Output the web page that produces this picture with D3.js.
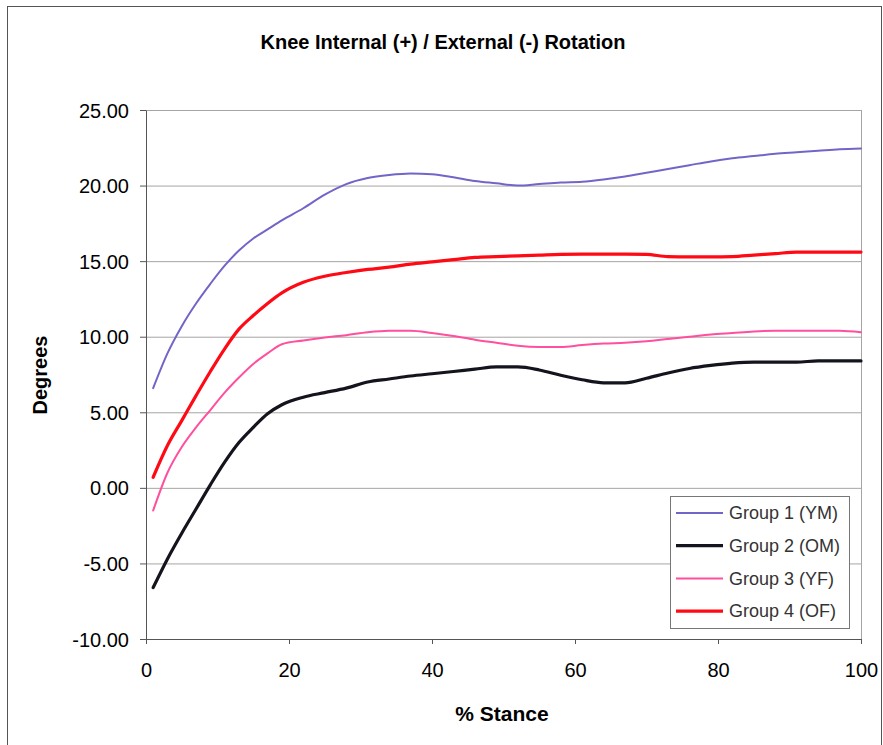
<!DOCTYPE html>
<html>
<head>
<meta charset="utf-8">
<script src="https://cdn.jsdelivr.net/npm/d3@7"></script>
<style>
	body { margin: 0; background: #fff; }
	text { font-family: "Liberation Sans", Arial, sans-serif; }
</style>
</head>
<body>
<svg id="chart"></svg>
<script>
// % stance sample points
let stance = [1, 3, 5, 7, 9, 11, 13, 15, 17, 19, 22, 25, 28, 31, 34, 37, 40, 43, 46, 49,
	52, 55, 58, 61, 64, 67, 70, 73, 76, 79, 82, 85, 88, 91, 94, 97, 100];

let group1_ym = [6.6, 8.9, 10.7, 12.2, 13.5, 14.7, 15.7, 16.5, 17.1, 17.7, 18.5, 19.4, 20.1, 20.5,
	20.7, 20.8, 20.75, 20.55, 20.3, 20.15, 20.0, 20.1, 20.2, 20.25, 20.4, 20.6, 20.85, 21.1,
	21.35, 21.6, 21.8, 21.95, 22.1, 22.2, 22.3, 22.4, 22.45];

let group2_om = [-6.6, -4.7, -3.0, -1.4, 0.2, 1.7, 3.0, 4.0, 4.9, 5.5, 6.0, 6.3, 6.6, 7.0,
	7.2, 7.4, 7.55, 7.7, 7.85, 8.0, 8.0, 7.8, 7.45, 7.15, 6.95, 6.95, 7.25, 7.6,
	7.9, 8.1, 8.25, 8.32, 8.32, 8.32, 8.4, 8.4, 8.4];

let group3_yf = [-1.5, 1.0, 2.7, 4.0, 5.15, 6.3, 7.3, 8.2, 8.9, 9.5, 9.75, 9.95, 10.1, 10.3,
	10.4, 10.4, 10.25, 10.05, 9.8, 9.6, 9.4, 9.32, 9.32, 9.45, 9.55, 9.6, 9.7, 9.85,
	10.0, 10.15, 10.25, 10.35, 10.4, 10.4, 10.4, 10.4, 10.3];

let group4_of = [0.7, 2.8, 4.45, 6.1, 7.7, 9.2, 10.5, 11.4, 12.2, 12.9, 13.6, 14.0, 14.25, 14.45,
	14.6, 14.8, 14.95, 15.1, 15.25, 15.3, 15.35, 15.4, 15.45, 15.47, 15.47, 15.47, 15.45, 15.3,
	15.28, 15.28, 15.3, 15.4, 15.5, 15.6, 15.6, 15.6, 15.6];

let series_names = ['Group 1 (YM)', 'Group 2 (OM)', 'Group 3 (YF)', 'Group 4 (OF)'];
let y_ticks = [-10, -5, 0, 5, 10, 15, 20, 25];
let x_ticks = [0, 20, 40, 60, 80, 100];

let series_colors = ['#7265c8', '#14141e', '#ff4f9e', '#ff0a14'];
let series_widths = [2, 3.2, 2, 3.2];

let width = 883, height = 745;
let margin = {left: 146, top: 110, right: 22, bottom: 106};
let plot_w = width - margin.left - margin.right,
	plot_h = height - margin.top - margin.bottom;

let svg = d3.select('#chart')
	.attr('width', width)
	.attr('height', height);

// outer frame
svg.append('rect')
	.attr('x', 7.5)
	.attr('y', 6.5)
	.attr('width', 874)
	.attr('height', 760)
	.attr('fill', 'none')
	.attr('stroke', '#555')
	.attr('stroke-width', 1);

let x = d3.scaleLinear()
	.domain([0, 100])
	.range([0, plot_w]);

let y = d3.scaleLinear()
	.domain([-10, 25])
	.range([plot_h, 0]);

let g = svg.append('g')
	.attr('transform', `translate(${margin.left}, ${margin.top})`);

// grid lines
g.selectAll('.grid')
	.data(y_ticks)
	.enter().append('line')
	.attr('class', 'grid')
	.attr('x1', 0)
	.attr('x2', plot_w)
	.attr('y1', d => y(d) + .5)
	.attr('y2', d => y(d) + .5)
	.attr('stroke', '#a8a4a4')
	.attr('stroke-width', 1);

// plot area right edge
g.append('line')
	.attr('x1', plot_w + .5)
	.attr('x2', plot_w + .5)
	.attr('y1', 0)
	.attr('y2', plot_h)
	.attr('stroke', '#a8a4a4');

// plain hyphen for negatives, like the original
let fmt = d => d3.format('.2f')(d).replace('\u2212', '-');

let y_axis = g.append('g')
	.call(d3.axisLeft(y).tickValues(y_ticks).tickSize(6).tickSizeOuter(0).tickFormat(fmt));

let x_axis = g.append('g')
	.attr('transform', `translate(0, ${plot_h})`)
	.call(d3.axisBottom(x).tickValues(x_ticks).tickSize(5).tickSizeOuter(0));

[y_axis, x_axis].forEach(a => {
	a.select('.domain').attr('stroke', '#555');
	a.selectAll('.tick line').attr('stroke', '#555');
	a.selectAll('text')
		.attr('fill', '#000')
		.style('font-family', '"Liberation Sans", Arial, sans-serif')
		.style('font-size', '20px');
});
y_axis.selectAll('text').attr('x', -17).attr('dy', '0.35em');
x_axis.selectAll('text').attr('y', 24);

let all_values = [group1_ym, group2_om, group3_yf, group4_of];

let line = d3.line()
	.x((d, i) => x(stance[i]))
	.y(d => y(d))
	.curve(d3.curveMonotoneX);

g.selectAll('.series')
	.data(all_values)
	.enter().append('path')
	.attr('class', 'series')
	.attr('d', d => line(d))
	.attr('fill', 'none')
	.attr('stroke', (d, i) => series_colors[i])
	.attr('stroke-width', (d, i) => series_widths[i])
	.attr('stroke-linejoin', 'round')
	.attr('stroke-linecap', 'round');

// title and axis labels
svg.append('text')
	.attr('x', 443)
	.attr('y', 49)
	.attr('text-anchor', 'middle')
	.style('font-size', '20px')
	.style('font-weight', 'bold')
	.text('Knee Internal (+) / External (-) Rotation');

svg.append('text')
	.attr('x', 502)
	.attr('y', 721)
	.attr('text-anchor', 'middle')
	.style('font-size', '21px')
	.style('font-weight', 'bold')
	.text('% Stance');

svg.append('text')
	.attr('transform', 'translate(47, 375) rotate(-90)')
	.attr('text-anchor', 'middle')
	.style('font-size', '20px')
	.style('font-weight', 'bold')
	.text('Degrees');

// legend
let legend = svg.append('g')
	.attr('transform', 'translate(670, 496)');

legend.append('rect')
	.attr('x', .5)
	.attr('y', .5)
	.attr('width', 179)
	.attr('height', 132)
	.attr('fill', '#fff')
	.attr('stroke', '#777');

let item = legend.selectAll('.legend-item')
	.data(series_names)
	.enter().append('g')
	.attr('class', 'legend-item')
	.attr('transform', (d, i) => `translate(0, ${17 + i * 32.7})`);

item.append('line')
	.attr('x1', 6)
	.attr('x2', 53)
	.attr('stroke', (d, i) => series_colors[i])
	.attr('stroke-width', (d, i) => series_widths[i]);

item.append('text')
	.attr('x', 59)
	.attr('dy', '0.35em')
	.attr('fill', '#333')
	.style('font-size', '18px')
	.text(d => d);
</script>
</body>
</html>
